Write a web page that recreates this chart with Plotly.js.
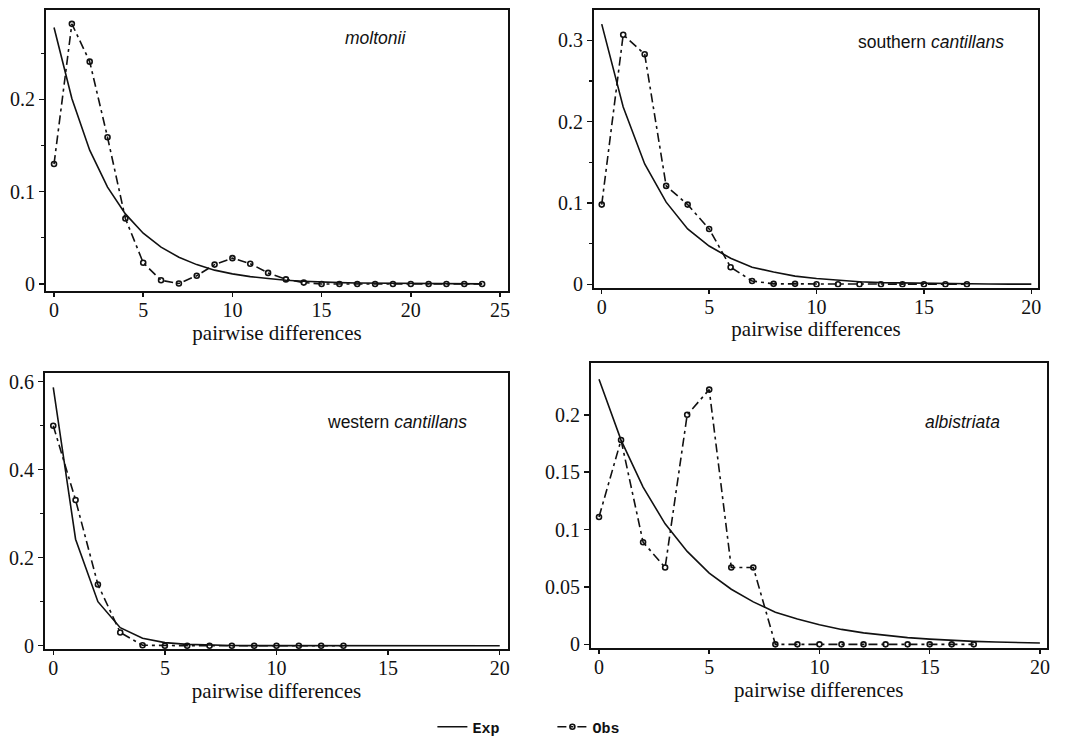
<!DOCTYPE html>
<html>
<head>
<meta charset="utf-8">
<script src="https://cdn.plot.ly/plotly-3.0.1.min.js"></script>
<style>html,body{margin:0;padding:0;background:#fff;}#chart{width:1081px;height:738px;}</style>
</head>
<body>
<div id="chart"></div>
<script>
// ---- data ----
const xMoltonii = [0,1,2,3,4,5,6,7,8,9,10,11,12,13,14,15,16,17,18,19,20,21,22,23,24];
const expMoltonii = [0.278,0.201,0.145,0.105,0.076,0.055,0.040,0.029,0.021,0.015,0.011,0.008,0.006,0.004,0.003,0.002,0.0015,0.001,0.0008,0.0006,0.0004,0.0003,0.0002,0.0002,0.0001];
const obsMoltonii = [0.13,0.282,0.241,0.159,0.071,0.023,0.004,0.0005,0.009,0.021,0.028,0.022,0.012,0.005,0.0015,0,0,0,0,0,0,0,0,0,0];

const xSouthExp = [0,1,2,3,4,5,6,7,8,9,10,11,12,13,14,15,16,17,18,19,20];
const expSouth = [0.32,0.218,0.148,0.101,0.068,0.047,0.032,0.021,0.015,0.010,0.007,0.005,0.003,0.002,0.0015,0.001,0.0007,0.0005,0.0003,0.0002,0.0001];
const xSouthObs = [0,1,2,3,4,5,6,7,8,9,10,11,12,13,14,15,16,17];
const obsSouth = [0.098,0.307,0.283,0.121,0.098,0.068,0.021,0.004,0.0005,0.0005,0,0,0,0,0,0,0,0];

const xWestExp = [0,1,2,3,4,5,6,7,8,9,10,11,12,13,14,15,16,17,18,19,20];
const expWest = [0.587,0.242,0.100,0.041,0.017,0.007,0.003,0.0012,0.0005,0.0002,0.0001,0,0,0,0,0,0,0,0,0,0];
const xWestObs = [0,1,2,3,4,5,6,7,8,9,10,11,12,13];
const obsWest = [0.5,0.331,0.139,0.030,0.001,0,0,0,0,0,0,0,0,0];

const xAlbiExp = [0,1,2,3,4,5,6,7,8,9,10,11,12,13,14,15,16,17,18,19,20];
const expAlbi = [0.231,0.178,0.137,0.105,0.081,0.062,0.048,0.037,0.028,0.022,0.017,0.013,0.010,0.0076,0.0058,0.0045,0.0034,0.0026,0.002,0.0016,0.0012];
const xAlbiObs = [0,1,2,3,4,5,6,7,8,9,10,11,12,13,14,15,16,17];
const obsAlbi = [0.111,0.178,0.089,0.067,0.2,0.222,0.067,0.067,0,0,0,0,0,0,0,0,0,0];

const panelLabels = ['<i>moltonii</i>','southern <i>cantillans</i>','western <i>cantillans</i>','<i>albistriata</i>'];
const xTitle = 'pairwise differences';

// ---- styling ----
const ink = '#111';
const SERIF = 'Liberation Serif, Times New Roman, serif';
const expLine = {color: ink, width: 1.6};
const obsLine = {color: ink, width: 1.6, dash: '9px,4px,3px,4px'};
const obsMarker = {symbol: 'circle-open', size: 5, color: ink, line: {width: 1.6, color: ink}};

function expTrace(x, y, ax, show) {
  return {x: x, y: y, xaxis: 'x' + ax, yaxis: 'y' + ax, mode: 'lines', name: 'Exp',
          line: Object.assign({}, expLine), showlegend: show, hoverinfo: 'skip'};
}
function obsTrace(x, y, ax, show) {
  return {x: x, y: y, xaxis: 'x' + ax, yaxis: 'y' + ax, mode: 'lines+markers', name: 'Obs',
          line: Object.assign({}, obsLine), marker: JSON.parse(JSON.stringify(obsMarker)), showlegend: show, hoverinfo: 'skip'};
}

const data = [
  expTrace(xMoltonii, expMoltonii, '', true),
  obsTrace(xMoltonii, obsMoltonii, '', true),
  expTrace(xSouthExp, expSouth, '2', false),
  obsTrace(xSouthObs, obsSouth, '2', false),
  expTrace(xWestExp, expWest, '3', false),
  obsTrace(xWestObs, obsWest, '3', false),
  expTrace(xAlbiExp, expAlbi, '4', false),
  obsTrace(xAlbiObs, obsAlbi, '4', false)
];

const W = 1081, H = 738;
function dx(a, b) { return [a / W, b / W]; }
function dy(top, bottom) { return [1 - bottom / H, 1 - top / H]; }

function tickFont() { return {family: SERIF, size: 20, color: ink}; }
function titleFont() { return {family: SERIF, size: 21, color: ink}; }

function xax(domain, range, dtick, anchor, showTitle) {
  const a = {domain: domain, range: range, dtick: dtick, tick0: 0, anchor: anchor,
    showline: true, mirror: true, linewidth: 2, linecolor: ink,
    ticks: 'outside', ticklen: 4, tickwidth: 1.5, tickcolor: ink, ticklabelstandoff: -4,
    showgrid: false, zeroline: false, tickfont: tickFont(), fixedrange: true};
  if (showTitle) a.title = {text: xTitle, font: titleFont(), standoff: 0};
  return a;
}
function yax(domain, range, dtick, minorDtick, anchor) {
  const a = {domain: domain, range: range, dtick: dtick, tick0: 0, anchor: anchor,
    showline: true, mirror: true, linewidth: 2, linecolor: ink,
    ticks: 'outside', ticklen: 5, tickwidth: 1.5, tickcolor: ink,
    showgrid: false, zeroline: false, tickfont: tickFont(), fixedrange: true};
  if (minorDtick) a.minor = {dtick: minorDtick, ticks: 'outside', ticklen: 3, tickwidth: 1.2, tickcolor: ink, showgrid: false};
  return a;
}

function labelFont() { return {family: 'Liberation Sans, Arial, sans-serif', size: 17.5, color: ink}; }

const layout = {
  width: W, height: H,
  margin: {l: 0, r: 0, t: 0, b: 0, autoexpand: false},
  font: {family: SERIF, size: 19, color: ink},
  paper_bgcolor: '#fff', plot_bgcolor: '#fff',
  showlegend: true,
  legend: {orientation: 'h', x: 0.511, xanchor: 'center', y: 1 - 727 / H, yanchor: 'middle',
           font: {family: 'Liberation Mono, Courier New, monospace', size: 15, color: ink, weight: 'bold'},
           bgcolor: 'rgba(0,0,0,0)', entrywidth: 75, entrywidthmode: 'pixels'},
  xaxis: xax(dx(46, 508), [-0.45, 25.45], 5, 'y', true),
  yaxis: yax(dy(10, 291), [-0.0076, 0.297], 0.1, 0.05, 'x'),
  xaxis2: xax(dx(594, 1038), [-0.36, 20.31], 5, 'y2', true),
  yaxis2: yax(dy(9.5, 287.5), [-0.004, 0.338], 0.1, 0.05, 'x2'),
  xaxis3: xax(dx(45, 508), [-0.37, 20.37], 5, 'y3', true),
  yaxis3: yax(dy(372.7, 649), [-0.0075, 0.6204], 0.2, 0.1, 'x3'),
  xaxis4: xax(dx(591, 1046.5), [-0.363, 20.3], 5, 'y4', true),
  yaxis4: yax(dy(363.3, 648), [-0.0032, 0.2449], 0.05, null, 'x4'),
  annotations: [
    {text: panelLabels[0], xref: 'paper', yref: 'paper', x: 375 / W, y: 1 - 38 / H, showarrow: false, font: labelFont(), xanchor: 'center', yanchor: 'middle'},
    {text: panelLabels[1], xref: 'paper', yref: 'paper', x: 931 / W, y: 1 - 42 / H, showarrow: false, font: labelFont(), xanchor: 'center', yanchor: 'middle'},
    {text: panelLabels[2], xref: 'paper', yref: 'paper', x: 397 / W, y: 1 - 422 / H, showarrow: false, font: labelFont(), xanchor: 'center', yanchor: 'middle'},
    {text: panelLabels[3], xref: 'paper', yref: 'paper', x: 962 / W, y: 1 - 422 / H, showarrow: false, font: labelFont(), xanchor: 'center', yanchor: 'middle'}
  ]
};

Plotly.newPlot('chart', data, layout, {displayModeBar: false, staticPlot: true});
</script>
</body>
</html>
